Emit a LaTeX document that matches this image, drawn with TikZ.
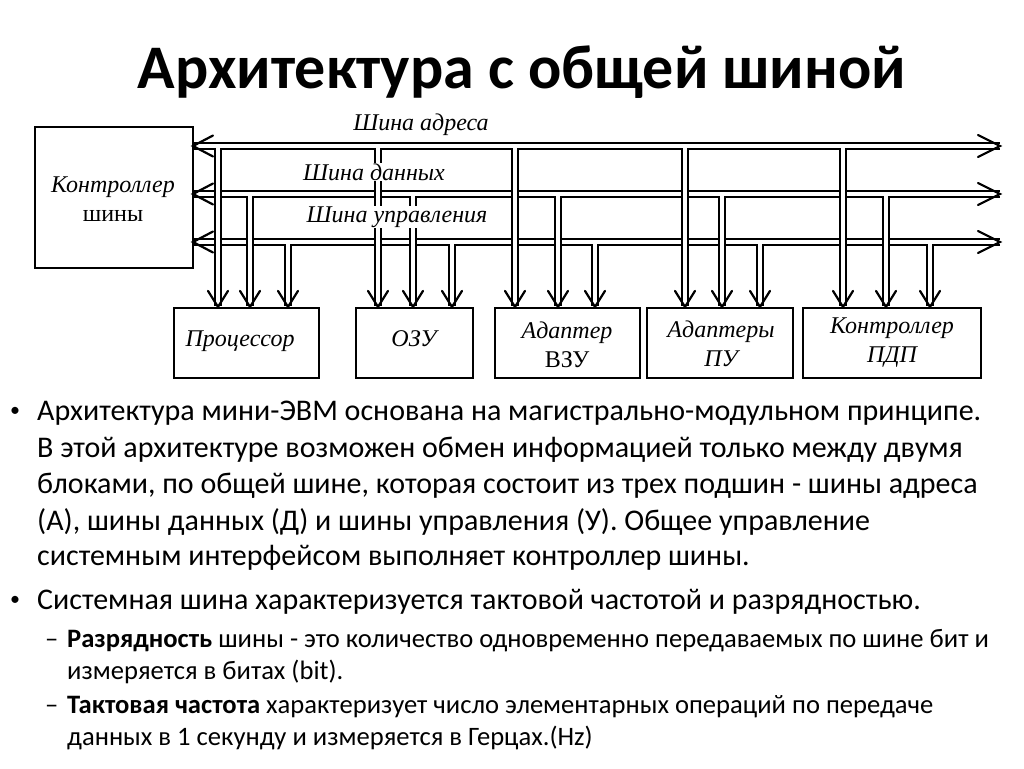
\documentclass[tikz,border=0pt]{standalone}
\usepackage{fontspec}
\setmainfont{Carlito}
\newfontfamily\dfont{Liberation Serif}
\begin{document}
\begin{tikzpicture}[x=1pt,y=-1pt,
  bus/.style={draw=black, line width=2.2pt, double=white, double distance=3.8pt},
  chev/.style={draw=black, line width=2.2pt, line cap=round, line join=miter},
  blk/.style={draw=black, line width=2.2pt, fill=white, inner sep=0pt, minimum height=70pt},
  lbl/.style={font=\dfont\itshape\fontsize{24}{26}\selectfont, inner sep=1pt},
  lblw/.style={lbl, fill=white},
  btxt/.style={font=\dfont\fontsize{24}{29}\selectfont, align=center, inner sep=0pt},
  title/.style={font=\bfseries\fontsize{62}{70}\selectfont, anchor=base, inner sep=0pt},
  body/.style={font=\fontsize{30}{34}\selectfont, anchor=base west, inner sep=0pt},
  sub/.style={font=\fontsize{26.6}{30}\selectfont, anchor=base west, inner sep=0pt},
  bul/.style={font=\fontsize{20}{24}\selectfont, anchor=base, inner sep=0pt}
]
\useasboundingbox[fill=white] (0,0) rectangle (1024,768);

% title
\node[title] (t) at (522,88) {Архитектура с общей шиной};

% buses
\coordinate (A0) at (193,146); \coordinate (A1) at (1000,146);
\coordinate (D0) at (193,194); \coordinate (D1) at (1000,194);
\coordinate (C0) at (193,242); \coordinate (C1) at (1000,242);
\draw[bus] (A0) -- (A1);
\draw[bus] (D0) -- (D1);
\draw[bus] (C0) -- (C1);

% controller
\node[blk, minimum width=158pt, minimum height=141pt] (ctrl) at (114,197.5) {};
\node[btxt] (ctrlt) at (113,199) {\itshape Контроллер\\шины};

% devices
\node[blk, minimum width=145pt] (P) at (246.5,343) {};
\node[blk, minimum width=117pt] (O) at (414.5,343) {};
\node[blk, minimum width=145pt] (V) at (567.5,343) {};
\node[blk, minimum width=146pt] (U) at (720,343) {};
\node[blk, minimum width=178pt] (K) at (892,343) {};
\node[btxt] (Pt) at (240,341) {\itshape Процессор};
\node[btxt] (Ot) at (414,339) {\itshape ОЗУ};
\node[btxt] (Vt) at (567,345) {\itshape Адаптер\\ВЗУ};
\node[btxt] (Ut) at (721,344) {\itshape Адаптеры\\\itshape ПУ};
\node[btxt] (Kt) at (892,343) {\itshape Контроллер\\\itshape ПДП};

% drops
\foreach \x/\b/\y in {218/P/148,250/P/196,288/P/244,
                      378/O/148,413/O/196,452/O/244,
                      515/V/148,558/V/196,595/V/244,
                      685/U/148,722/U/196,760/U/244,
                      843/K/148,886/K/196,930/K/244}{
  \coordinate (s) at (\x,\y);
  \coordinate (e) at (s |- \b.north);
  \draw[bus] (s) -- ([yshift=1pt]e);
  \draw[chev] ([shift={(-10,-16)}]e) -- (e) -- ([shift={(10,-16)}]e);
}

% bus arrowheads
\foreach \p in {A0,D0,C0}
  \draw[chev] ([shift={(20,-10.5)}]\p) -- (\p) -- ([shift={(20,10.5)}]\p);
\foreach \p in {A1,D1,C1}
  \draw[chev] ([shift={(-22,-11)}]\p) -- (\p) -- ([shift={(-22,11)}]\p);

% bus labels
\node[lbl] (la) at (421,125) {Шина адреса};
\node[lblw] (ld) at (374,172) {Шина данных};
\node[lblw] (lc) at (397,217) {Шина управления};

% body text
\node[bul] (b1) at (15,416) {•};
\node[body] (l1) at (37,420) {Архитектура мини-ЭВМ основана на магистрально-модульном принципе.};
\node[body] (l2) at (37,457) {В этой архитектуре возможен обмен информацией только между двумя};
\node[body] (l3) at (37,493) {блоками, по общей шине, которая состоит из трех подшин - шины адреса};
\node[body] (l4) at (37,530) {(А), шины данных (Д) и шины управления (У). Общее управление};
\node[body] (l5) at (37,565) {системным интерфейсом выполняет контроллер шины.};
\node[bul] (b2) at (15,605) {•};
\node[body] (l6) at (37,609) {Системная шина характеризуется тактовой частотой и разрядностью.};
\node[sub] (d1) at (45,647) {–};
\node[sub] (s1) at (67,647) {\textbf{Разрядность} шины - это количество одновременно передаваемых по шине бит и};
\node[sub] (s2) at (67,679) {измеряется в битах (bit).};
\node[sub] (d2) at (45,713) {–};
\node[sub] (s3) at (67,713) {\textbf{Тактовая частота} характеризует число элементарных операций по передаче};
\node[sub] (s4) at (67,745) {данных в 1 секунду и измеряется в Герцах.(Hz)};
\end{tikzpicture}
\end{document}
